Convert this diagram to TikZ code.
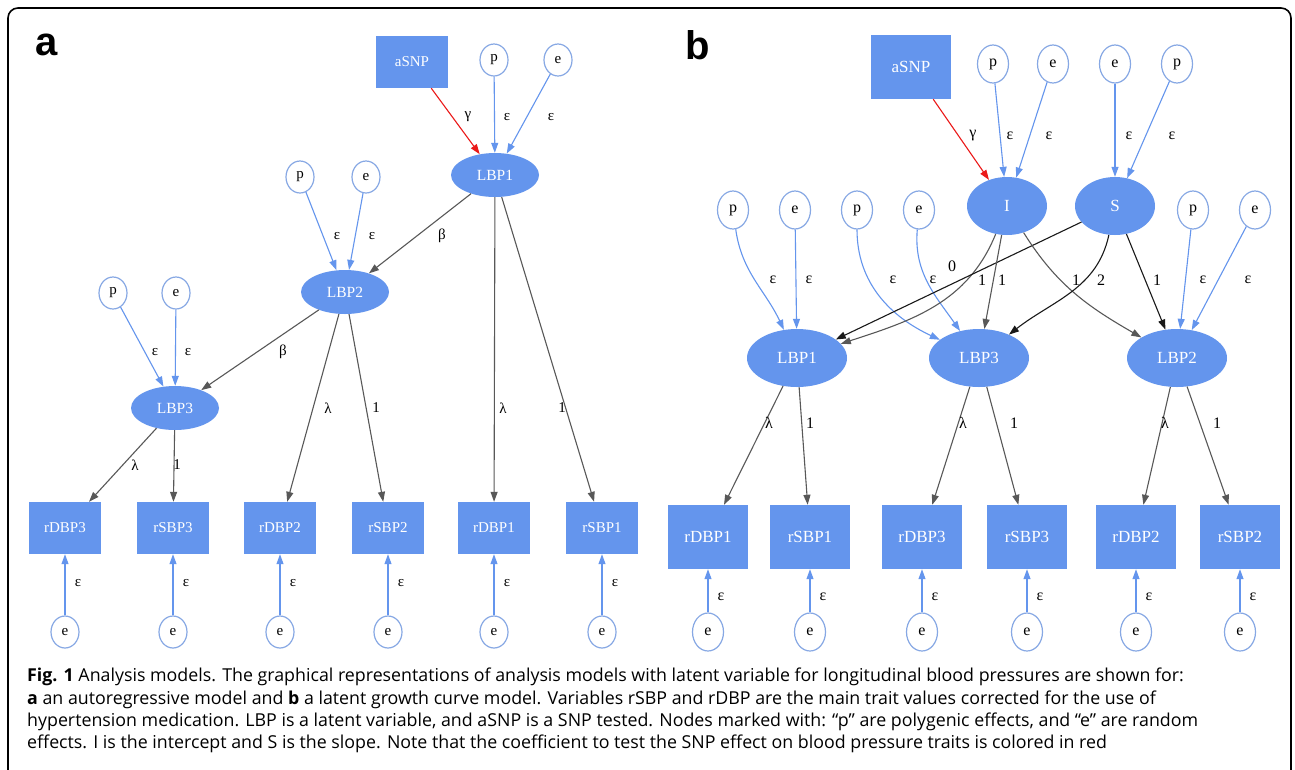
\documentclass[tikz,border=0pt]{standalone}
\usepackage{fontspec}
\setmainfont{Liberation Serif}
\newfontfamily\capfont{Open Sans}
\newfontfamily\tagfont{Liberation Sans}
\usetikzlibrary{shapes.geometric,arrows.meta}

\definecolor{nodeblue}{RGB}{100,149,237}
\definecolor{ringblue}{RGB}{135,168,228}
\definecolor{pathgray}{RGB}{88,88,88}
\definecolor{pathdark}{RGB}{25,25,25}
\definecolor{snpred}{RGB}{235,25,25}

\tikzset{
  obsbox/.style={rectangle, fill=nodeblue, text=white, minimum width=72pt, minimum height=52pt, inner sep=0pt, font=\fontsize{15}{15}\selectfont},
  latent/.style={ellipse, fill=nodeblue, text=white, minimum width=88pt, minimum height=44pt, inner sep=0pt, font=\fontsize{15.5}{15.5}\selectfont},
  effect/.style={ellipse, draw=ringblue, fill=white, line width=1.2pt, minimum width=28pt, minimum height=32pt, inner sep=0pt, font=\fontsize{15}{15}\selectfont},
  headed/.style={-{Triangle[length=10pt,width=7pt]}},
  varpath/.style={headed, draw=nodeblue, line width=1.1pt},
  regpath/.style={headed, draw=pathgray, line width=1.1pt},
  slopepath/.style={headed, draw=pathdark, line width=1.1pt},
  snppath/.style={headed, draw=snpred, line width=1.1pt},
  coef/.style={inner sep=0pt, font=\fontsize{15}{15}\selectfont},
  panel/.style={inner sep=0pt, font=\tagfont\bfseries\fontsize{40}{40}\selectfont},
}

\begin{document}
\begin{tikzpicture}[x=1pt, y=-1pt]
  \clip (0,0) rectangle (1295,769);
  \fill[white] (0,0) rectangle (1295,769);
  \draw[line width=1.6pt, rounded corners=10pt] (8,8) rectangle (1291,800);

  % panel a: autoregressive model
  \node[panel] (tagA) at (47,45) {a};
  \node[obsbox] (snpA) at (412,62) {aSNP};
  \node[effect] (pA1) at (494,60) {p};
  \node[effect] (eA1) at (558,60) {e};
  \node[latent] (lbpA1) at (495,175) {LBP1};
  \node[effect] (pA2) at (300,177) {p};
  \node[effect] (eA2) at (366,177) {e};
  \node[latent] (lbpA2) at (345,292) {LBP2};
  \node[effect] (pA3) at (113,293) {p};
  \node[effect] (eA3) at (176,293) {e};
  \node[latent] (lbpA3) at (175,408) {LBP3};

  \draw[snppath] (snpA) -- (lbpA1) node[coef] at (468,117) {γ};
  \draw[varpath] (pA1) -- (lbpA1) node[coef] at (507,117) {ε};
  \draw[varpath] (eA1) -- (lbpA1) node[coef] at (551,117) {ε};
  \draw[regpath] (lbpA1) -- (lbpA2) node[coef] at (442,236) {β};
  \draw[varpath] (pA2) -- (lbpA2) node[coef] at (337,236) {ε};
  \draw[varpath] (eA2) -- (lbpA2) node[coef] at (372,236) {ε};
  \draw[regpath] (lbpA2) -- (lbpA3) node[coef] at (283,352) {β};
  \draw[varpath] (pA3) -- (lbpA3) node[coef] at (155,352) {ε};
  \draw[varpath] (eA3) -- (lbpA3) node[coef] at (188,352) {ε};

  \foreach \nm/\x in {rDBP3/65, rSBP3/173, rDBP2/280, rSBP2/388, rDBP1/494, rSBP1/602} {
    \node[obsbox] (A\nm) at (\x,528) {\nm};
    \node[effect] (Ae\nm) at (\x,632) {e};
    \draw[varpath] (Ae\nm) -- (A\nm) node[coef] at (\x+13,583) {ε};
  }

  \draw[regpath] (lbpA3) -- (ArDBP3) node[coef] at (135,465) {λ};
  \draw[regpath] (lbpA3) -- (ArSBP3) node[coef] at (177,465) {1};
  \draw[regpath] (lbpA2) -- (ArDBP2) node[coef] at (328,408) {λ};
  \draw[regpath] (lbpA2) -- (ArSBP2) node[coef] at (376,408) {1};
  \draw[regpath] (lbpA1) -- (ArDBP1) node[coef] at (503,408) {λ};
  \draw[regpath] (lbpA1) -- (ArSBP1) node[coef] at (562,408) {1};

  % panel b: latent growth curve model
  \begin{scope}[obsbox/.append style={minimum width=80pt, minimum height=64pt, font=\fontsize{17}{17}\selectfont},
                latent/.append style={minimum width=100pt, minimum height=58pt, font=\fontsize{17}{17}\selectfont},
                effect/.append style={minimum width=31pt, minimum height=38pt, font=\fontsize{16}{16}\selectfont},
                coef/.append style={font=\fontsize{16}{16}\selectfont}]
    \node[panel] (tagB) at (698,45) {b};
    \node[obsbox] (snpB) at (911,67) {aSNP};
    \node[effect] (pB0) at (993,64) {p};
    \node[effect] (eB0) at (1053,64) {e};
    \node[effect] (eB9) at (1115,64) {e};
    \node[effect] (pB9) at (1177,64) {p};
    \node[latent, minimum width=80pt] (bI) at (1007,206) {I};
    \node[latent, minimum width=80pt] (bS) at (1115,206) {S};

    \node[effect] (pB1) at (733,210) {p};
    \node[effect] (eB1) at (795,210) {e};
    \node[effect] (pB3) at (857,210) {p};
    \node[effect] (eB3) at (919,210) {e};
    \node[effect] (pB2) at (1193,210) {p};
    \node[effect] (eB2) at (1255,210) {e};

    \node[latent] (bLBP1) at (797,358) {LBP1};
    \node[latent] (bLBP3) at (979,358) {LBP3};
    \node[latent] (bLBP2) at (1177,358) {LBP2};

    \draw[snppath] (snpB) -- (bI) node[coef] at (973,136) {γ};
    \draw[varpath] (pB0) -- (bI) node[coef] at (1010,136) {ε};
    \draw[varpath] (eB0) -- (bI) node[coef] at (1049,136) {ε};
    \draw[varpath] (eB9) -- (bS) node[coef] at (1129,136) {ε};
    \draw[varpath] (pB9) -- (bS) node[coef] at (1172,136) {ε};

    \draw[varpath] (pB1) to[out=-82, in=115] (bLBP1) node[coef] at (773,280) {ε};
    \draw[varpath] (eB1) -- (bLBP1) node[coef] at (809,280) {ε};
    \draw[varpath] (pB3) to[out=-90, in=155] (bLBP3) node[coef] at (893,280) {ε};
    \draw[varpath] (eB3) to[out=-95, in=125] (bLBP3) node[coef] at (933,280) {ε};
    \draw[varpath] (pB2) -- (bLBP2) node[coef] at (1203,280) {ε};
    \draw[varpath] (eB2) -- (bLBP2) node[coef] at (1248,280) {ε};

    \draw[regpath] (bI) to[out=-112, in=18] (bLBP1) node[coef] at (982,280) {1};
    \draw[slopepath] (bS) -- (bLBP1) node[coef] at (952,266) {0};
    \draw[regpath] (bI) -- (bLBP3) node[coef] at (1002,280) {1};
    \draw[regpath] (bI) to[out=-58, in=150] (bLBP2) node[coef] at (1076,280) {1};
    \draw[slopepath] (bS) to[out=-102, in=38] (bLBP3) node[coef] at (1101,280) {2};
    \draw[slopepath] (bS) -- (bLBP2) node[coef] at (1157,280) {1};

    \foreach \nm/\x in {rDBP1/708, rSBP1/810, rDBP3/922, rSBP3/1027, rDBP2/1136, rSBP2/1240} {
      \node[obsbox] (B\nm) at (\x,537) {\nm};
      \node[effect] (Be\nm) at (\x,632) {e};
      \draw[varpath] (Be\nm) -- (B\nm) node[coef] at (\x+13,597) {ε};
    }

    \draw[regpath] (bLBP1) -- (BrDBP1) node[coef] at (769,423) {λ};
    \draw[regpath] (bLBP1) -- (BrSBP1) node[coef] at (810,423) {1};
    \draw[regpath] (bLBP3) -- (BrDBP3) node[coef] at (963,423) {λ};
    \draw[regpath] (bLBP3) -- (BrSBP3) node[coef] at (1014,423) {1};
    \draw[regpath] (bLBP2) -- (BrDBP2) node[coef] at (1165,423) {λ};
    \draw[regpath] (bLBP2) -- (BrSBP2) node[coef] at (1217,423) {1};
  \end{scope}

  % caption
  \node[anchor=north west, align=left, inner sep=0pt, font=\capfont\fontsize{17.8}{22.3}\selectfont] (caption) at (27,668)
    {\textbf{Fig. 1} Analysis models. The graphical representations of analysis models with latent variable for longitudinal blood pressures are shown for:\\
     \textbf{a} an autoregressive model and \textbf{b} a latent growth curve model. Variables rSBP and rDBP are the main trait values corrected for the use of\\
     hypertension medication. LBP is a latent variable, and aSNP is a SNP tested. Nodes marked with: “p” are polygenic effects, and “e” are random\\
     effects. I is the intercept and S is the slope. Note that the coefficient to test the SNP effect on blood pressure traits is colored in red};
\end{tikzpicture}
\end{document}
